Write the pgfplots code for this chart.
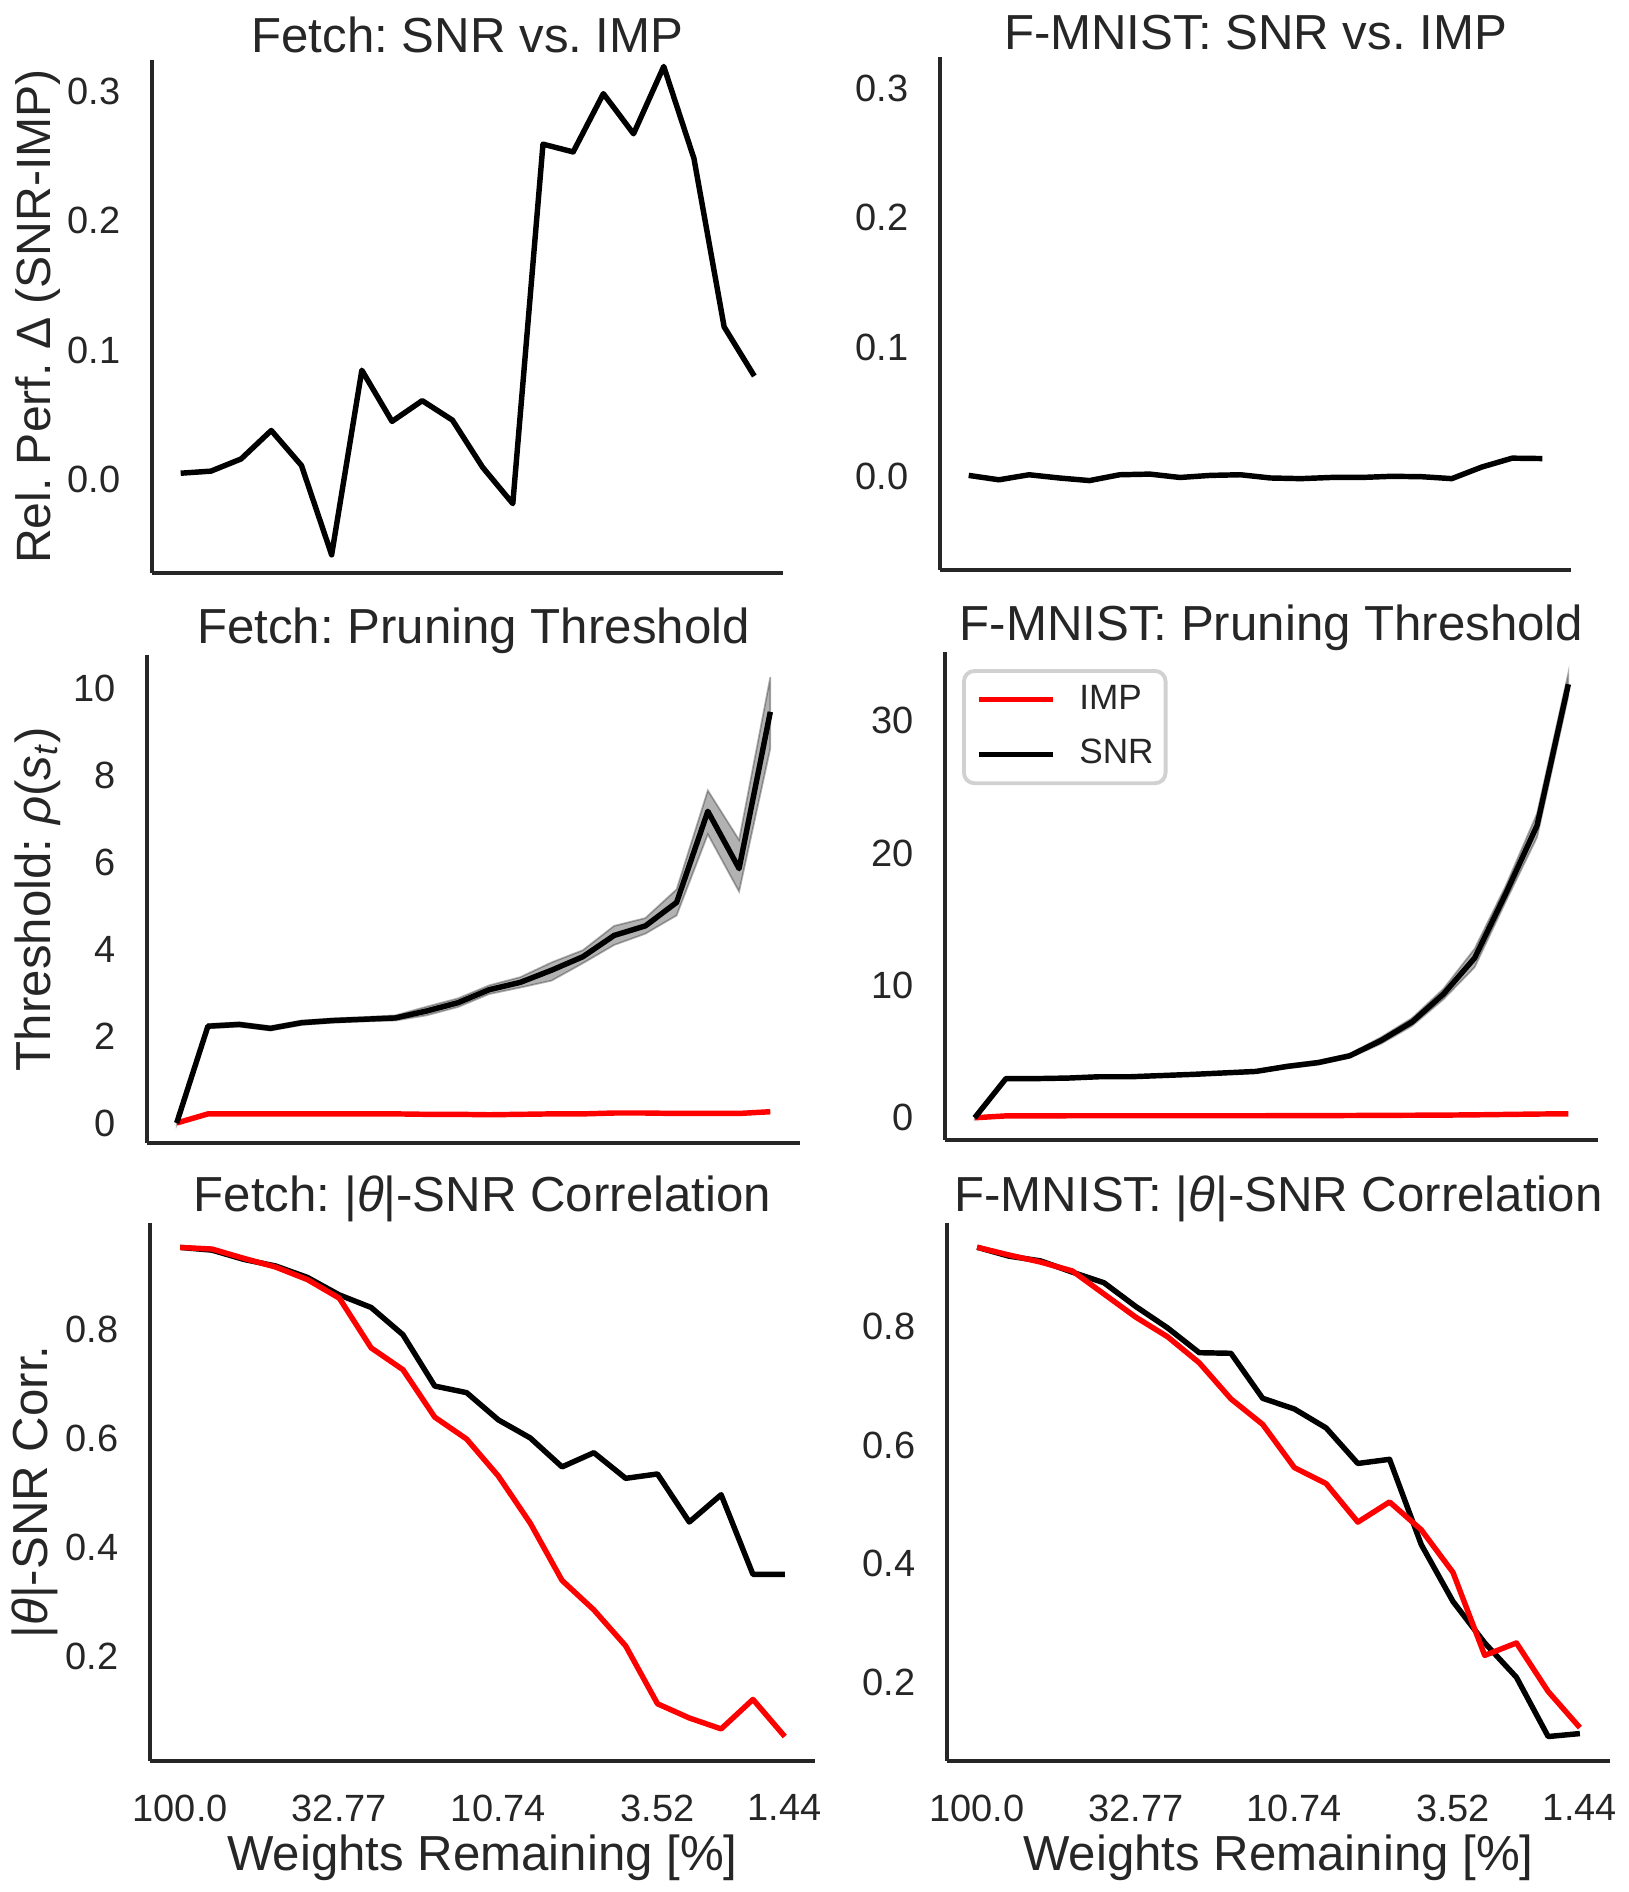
\documentclass[border=0pt]{standalone}
\usepackage{fontspec}
\setmainfont{Liberation Sans}
\usepackage{pgfplots}
\usepackage{pgfplotstable}
\pgfplotsset{compat=1.18}
\frenchspacing

\definecolor{txt}{RGB}{38,38,38}
\definecolor{impred}{RGB}{255,0,0}

% relative performance, SNR minus IMP
\pgfplotstableread{
i  fetch    fmnist
0  0.005    0.001
1  0.0066  -0.0024
2  0.016    0.0015
3  0.038   -0.001
4  0.011   -0.003
5  -0.058   0.0015
6  0.0845   0.002
7  0.045   -0.0006
8  0.061    0.001
9  0.046    0.0015
10 0.0096  -0.001
11 -0.0185 -0.0015
12 0.259   -0.0006
13 0.253   -0.0006
14 0.298    0.0003
15 0.267    0.0
16 0.319   -0.0015
17 0.248    0.0075
18 0.118    0.0143
19 0.080    0.014
}\deltatab

% pruning threshold (mean)
\pgfplotstableread{
i  fimp  fsnr  mimp  msnr
0  0.00  0.00  0.00  0.00
1  0.21  2.23  0.14  2.96
2  0.21  2.27  0.14  2.96
3  0.21  2.18  0.15  3.00
4  0.21  2.31  0.15  3.10
5  0.21  2.36  0.15  3.10
6  0.21  2.39  0.15  3.19
7  0.21  2.42  0.15  3.28
8  0.20  2.58  0.15  3.39
9  0.20  2.77  0.15  3.50
10 0.19  3.07  0.16  3.88
11 0.20  3.24  0.16  4.17
12 0.21  3.52  0.17  4.68
13 0.21  3.83  0.18  5.83
14 0.23  4.32  0.19  7.24
15 0.23  4.54  0.20  9.34
16 0.22  5.08  0.22  12.07
17 0.22  7.18  0.25  16.95
18 0.22  5.86  0.28  22.10
19 0.26  9.47  0.30  32.76
}\thrtab

% SNR spread band: upper edge forward, lower edge back
\pgfplotstableread{
i  fb     mb
0  0.02   0.10
1  2.28   3.06
2  2.32   3.06
3  2.23   3.10
4  2.36   3.20
5  2.41   3.20
6  2.44   3.29
7  2.48   3.38
8  2.68   3.49
9  2.87   3.60
10 3.17   4.03
11 3.36   4.32
12 3.70   4.83
13 3.98   6.08
14 4.54   7.54
15 4.72   9.74
16 5.38   12.77
17 7.66   17.55
18 6.52   23.00
19 10.27  33.60
19 8.63   31.90
18 5.33   21.20
17 6.65   16.35
16 4.78   11.37
15 4.36   8.94
14 4.10   6.94
13 3.68   5.58
12 3.28   4.53
11 3.12   4.02
10 2.97   3.73
9  2.67   3.40
8  2.48   3.29
7  2.36   3.18
6  2.34   3.09
5  2.31   3.00
4  2.26   3.00
3  2.13   2.90
2  2.22   2.86
1  2.18   2.86
0  -0.02  -0.10
}\bandtab

% |theta|-SNR correlation
\pgfplotstableread{
i  fsnr   fimp   msnr   mimp
0  0.950  0.950  0.934  0.934
1  0.945  0.947  0.919  0.921
2  0.928  0.930  0.911  0.909
3  0.916  0.914  0.892  0.894
4  0.895  0.891  0.874  0.855
5  0.863  0.857  0.834  0.816
6  0.840  0.766  0.798  0.783
7  0.790  0.726  0.756  0.739
8  0.696  0.639  0.755  0.678
9  0.684  0.599  0.679  0.635
10 0.634  0.531  0.661  0.562
11 0.601  0.445  0.629  0.535
12 0.548  0.340  0.569  0.470
13 0.574  0.286  0.576  0.504
14 0.527  0.220  0.432  0.457
15 0.535  0.114  0.336  0.385
16 0.447  0.088  0.266  0.245
17 0.497  0.068  0.208  0.266
18 0.351  0.122  0.108  0.184
19 0.351  0.054  0.113  0.123
}\corrtab

\pgfplotsset{
  panel/.style={
    scale only axis,
    axis x line*=bottom, axis y line*=left,
    axis line style={draw=txt, line width=1.2pt},
    xmin=-0.95, xmax=19.95,
    major tick length=0pt,
    tick style={draw=none},
    ticklabel style={font=\fontsize{10.8}{13}\selectfont, text=txt},
    yticklabel style={anchor=east, inner sep=0pt, xshift=-0.31cm},
    xticklabel style={anchor=north, inner sep=0pt, yshift=-0.33cm},
    every axis title shift=0pt,
    title style={font=\fontsize{14}{16}\selectfont, text=txt,
      at={(rel axis cs:0.5,1)}, anchor=base, inner sep=0pt, yshift=0.11cm},
    label style={font=\fontsize{14}{16}\selectfont, text=txt},
    /pgf/number format/assume math mode=true,
    anchor=south west,
  },
  noxt/.style={xtick=\empty},
  wx/.style={
    xtick={0,5,10,15,19},
    xticklabels={100.0,32.77,10.74,3.52,1.44},
    xlabel={Weights Remaining [\%]},
    xlabel style={at={(rel axis cs:0.5,0)}, anchor=base, inner sep=0pt,
      yshift=-1.09cm},
  },
  snr/.style={black, line width=1.55pt, line join=round},
  impl/.style={impred, line width=1.55pt, line join=round},
  band/.style={fill=black, fill opacity=0.3, draw=black, draw opacity=0.3,
    line width=0.5pt},
}

\begin{document}
\begin{tikzpicture}
\useasboundingbox (0,0) rectangle (16.28,18.92);

% --- row 1 ---
\begin{axis}[panel, noxt,
  at={(1.52cm,13.19cm)}, width=6.31cm, height=5.13cm,
  ymin=-0.072, ymax=0.324,
  ytick={0,0.1,0.2,0.3}, yticklabels={0.0,0.1,0.2,0.3},
  title={Fetch: SNR vs. IMP},
  title style={yshift=-0.04cm},
  ylabel={Rel. Perf. Δ (SNR-IMP)},
  ylabel style={at={(rel axis cs:-0.18,0.5)}, anchor=center,
    font=\fontsize{13.7}{16}\selectfont},
]
\addplot[snr] table[x=i, y=fetch]{\deltatab};
\end{axis}

\begin{axis}[panel, noxt,
  at={(9.40cm,13.22cm)}, width=6.31cm, height=5.13cm,
  ymin=-0.072, ymax=0.324,
  ytick={0,0.1,0.2,0.3}, yticklabels={0.0,0.1,0.2,0.3},
  title={F-MNIST: SNR vs. IMP},
  title style={yshift=-0.04cm},
]
\addplot[snr] table[x=i, y=fmnist]{\deltatab};
\end{axis}

% --- row 2 ---
\begin{axis}[panel, noxt,
  at={(1.47cm,7.49cm)}, width=6.53cm, height=4.88cm,
  ymin=-0.46, ymax=10.78,
  ytick={0,2,4,6,8,10},
  title={Fetch: Pruning Threshold},
  ylabel={Threshold: \textit{ρ}(\textit{s}\textsubscript{\textit{t}})},
  ylabel style={at={(rel axis cs:-0.168,0.5)}, anchor=center},
]
\addplot[band] table[x=i, y=fb]{\bandtab} -- cycle;
\addplot[impl] table[x=i, y=fimp]{\thrtab};
\addplot[snr] table[x=i, y=fsnr]{\thrtab};
\end{axis}

\begin{axis}[panel, noxt,
  at={(9.45cm,7.52cm)}, width=6.53cm, height=4.88cm,
  ymin=-1.68, ymax=35.2,
  ytick={0,10,20,30},
  title={F-MNIST: Pruning Threshold},
  legend style={at={(rel axis cs:0.026,0.965)}, anchor=north west,
    font=\fontsize{10}{12}\selectfont, text=txt,
    draw=black!18, line width=1.1pt, rounded corners=3pt, fill=white,
    inner xsep=0.12cm, inner ysep=0.14cm, row sep=0.25cm,
    nodes={inner sep=0pt}},
  legend cell align=left,
  legend image code/.code={\draw[#1] (0cm,0cm) -- (0.74cm,0cm);},
  /tikz/every odd column/.append style={column sep=0.24cm},
]
\addplot[band, forget plot] table[x=i, y=mb]{\bandtab} -- cycle;
\addplot[impl] table[x=i, y=mimp]{\thrtab};
\addlegendentry{IMP}
\addplot[snr] table[x=i, y=msnr]{\thrtab};
\addlegendentry{SNR}
\end{axis}

% --- row 3 ---
\begin{axis}[panel, wx,
  at={(1.50cm,1.31cm)}, width=6.65cm, height=5.38cm,
  ymin=0.0092, ymax=0.9948,
  ytick={0.2,0.4,0.6,0.8}, yticklabels={0.2,0.4,0.6,0.8},
  title={Fetch: |\textit{θ}|-SNR Correlation},
  ylabel={|\textit{θ}|-SNR Corr.},
  ylabel style={at={(rel axis cs:-0.173,0.5)}, anchor=center},
]
\addplot[snr] table[x=i, y=fsnr]{\corrtab};
\addplot[impl] table[x=i, y=fimp]{\corrtab};
\end{axis}

\begin{axis}[panel, wx,
  at={(9.47cm,1.31cm)}, width=6.63cm, height=5.38cm,
  ymin=0.0667, ymax=0.975,
  ytick={0.2,0.4,0.6,0.8}, yticklabels={0.2,0.4,0.6,0.8},
  title={F-MNIST: |\textit{θ}|-SNR Correlation},
]
\addplot[snr] table[x=i, y=msnr]{\corrtab};
\addplot[impl] table[x=i, y=mimp]{\corrtab};
\end{axis}
\end{tikzpicture}
\end{document}
